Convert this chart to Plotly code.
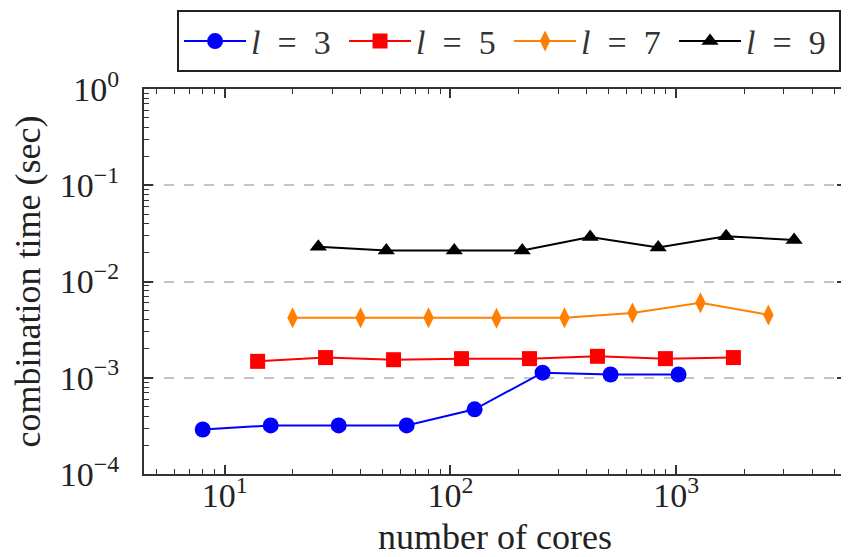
import plotly.graph_objects as go

# data
cores_l3 = [8, 16, 32, 64, 128, 256, 512, 1024]
time_l3 = [2.9e-4, 3.2e-4, 3.2e-4, 3.2e-4, 4.7e-4, 1.13e-3, 1.08e-3, 1.08e-3]
cores_l5 = [14, 28, 56, 112, 224, 448, 896, 1792]
time_l5 = [1.48e-3, 1.62e-3, 1.54e-3, 1.58e-3, 1.58e-3, 1.67e-3, 1.58e-3, 1.62e-3]
cores_l7 = [20, 40, 80, 160, 320, 640, 1280, 2560]
time_l7 = [4.2e-3, 4.2e-3, 4.2e-3, 4.15e-3, 4.2e-3, 4.7e-3, 6.0e-3, 4.5e-3]
cores_l9 = [26, 52, 104, 208, 416, 832, 1664, 3328]
time_l9 = [2.3e-2, 2.1e-2, 2.1e-2, 2.1e-2, 2.9e-2, 2.25e-2, 2.95e-2, 2.7e-2]

series_names = ["<i>l</i>\u2002=\u20023", "<i>l</i>\u2002=\u20025",
                "<i>l</i>\u2002=\u20027", "<i>l</i>\u2002=\u20029"]
x_tickvals = [10, 100, 1000]
x_ticktext = ["10<sup>1</sup>", "10<sup>2</sup>", "10<sup>3</sup>"]
y_tickvals = [1e-4, 1e-3, 1e-2, 1e-1, 1]
y_ticktext = ["10<sup>−4</sup>", "10<sup>−3</sup>", "10<sup>−2</sup>", "10<sup>−1</sup>", "10<sup>0</sup>"]

styles = [
    dict(color="#0000ff", symbol="circle", size=16),
    dict(color="#ff0000", symbol="square", size=15),
    dict(color="#ff8000", symbol="diamond-tall", size=15),
    dict(color="#000000", symbol="triangle-up", size=15),
]

fig = go.Figure()
for xs, ys, name, st in zip(
    [cores_l3, cores_l5, cores_l7, cores_l9],
    [time_l3, time_l5, time_l7, time_l9],
    series_names, styles,
):
    fig.add_trace(go.Scatter(
        x=xs, y=ys, name=name, mode="lines+markers",
        line=dict(color=st["color"], width=2),
        marker=dict(color=st["color"], symbol=st["symbol"], size=st["size"], line=dict(width=0)),
    ))

font_family = "Liberation Serif"
axis_common = dict(
    showline=True, linecolor="#333333", linewidth=2, mirror="ticks",
    ticks="inside", ticklen=9, tickwidth=1.5, tickcolor="#333333",
    tickfont=dict(family=font_family, size=34, color="#222222"),
    minor=dict(ticks="inside", ticklen=5, tickwidth=1.2, tickcolor="#333333", dtick="D1", showgrid=False),
    zeroline=False, automargin=False,
)

fig.update_xaxes(
    type="log", range=[0.643, 3.752],
    tickmode="array", tickvals=x_tickvals, ticktext=x_ticktext,
    showgrid=False, ticklabelstandoff=-10,
    title=dict(text="number of cores", font=dict(family=font_family, size=36, color="#222222"), standoff=12),
    **axis_common,
)
fig.update_yaxes(
    type="log", range=[-4, 0],
    tickmode="array", tickvals=y_tickvals, ticktext=y_ticktext,
    showgrid=True, gridcolor="#c4c4c4", gridwidth=2, griddash="10px,10px",
    ticklabelstandoff=16,
    title=dict(text="combination time (sec)", font=dict(family=font_family, size=36, color="#222222"), standoff=11),
    **axis_common,
)

# the page body adds an 8px margin, so the figure is sized/offset to compensate
fig.update_layout(
    width=841, height=549,
    margin=dict(l=136, r=3, t=79, b=83),
    paper_bgcolor="white", plot_bgcolor="white",
    font=dict(family=font_family, size=34, color="#222222"),
    legend=dict(
        orientation="h", x=0.52, xanchor="center", y=1.204, yanchor="top",
        bordercolor="#222222", borderwidth=2, bgcolor="white",
        font=dict(family=font_family, size=34, color="#333333"),
        itemwidth=62, tracegroupgap=0, entrywidth=88, entrywidthmode="pixels",
    ),
    showlegend=True,
)

fig.write_html("out.html")
